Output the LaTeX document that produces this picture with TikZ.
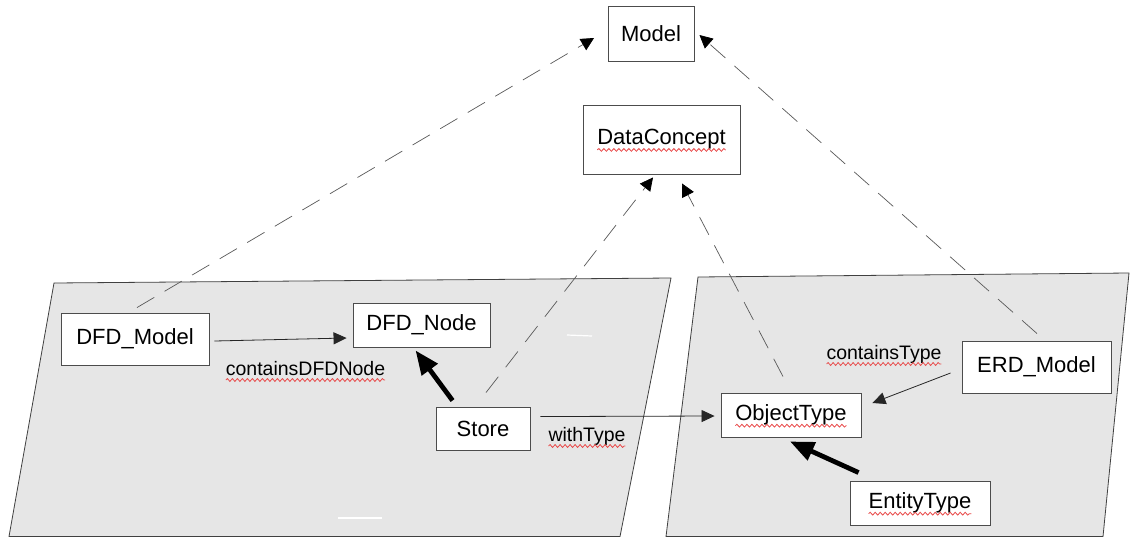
\documentclass[tikz,border=0pt]{standalone}
\usepackage{fontspec}
\setmainfont{Liberation Sans}
\usetikzlibrary{arrows.meta,calc,decorations.pathmorphing}
\definecolor{spellred}{RGB}{232,72,72}
\definecolor{panelgray}{RGB}{230,230,230}
% widths of the words carrying a red spell-check wave
\newlength\wdc \newlength\wobj \newlength\went
\newlength\wcontains \newlength\wwith \newlength\wctype
\newcommand\boxfont{\fontsize{22}{26}\selectfont}
\newcommand\lblfont{\fontsize{19.5}{23}\selectfont}
\newcommand\spellunder[2]{%
  \draw[spell] ($(#1.base)+(-.5#2,5)$) -- ($(#1.base)+(.5#2,5)$);}
\begin{document}
\settowidth\wdc{\boxfont DataConcept}%
\settowidth\wobj{\boxfont ObjectType}%
\settowidth\went{\boxfont EntityType}%
\settowidth\wcontains{\lblfont containsDFDNode}%
\settowidth\wwith{\lblfont withType}%
\settowidth\wctype{\lblfont containsType}%
\begin{tikzpicture}[x=1pt,y=-1pt,
  box/.style={draw=black!70, line width=0.9pt, fill=white, inner sep=0pt, font=\boxfont},
  lbl/.style={inner sep=0pt, anchor=base, font=\lblfont},
  assoc/.style={draw=black!85, line width=0.8pt, -{Triangle[length=13pt,width=12pt]}},
  inherit/.style={draw=black, line width=4.8pt, -{Triangle[length=24pt,width=19pt]}},
  depend/.style={draw=black!65, line width=0.7pt, dash pattern=on 20pt off 12pt,
                 -{Triangle[length=13pt,width=13pt,black]}},
  panel/.style={fill=panelgray, draw=black!75, line width=0.8pt},
  spell/.style={draw=spellred, line width=0.8pt,
                decorate, decoration={snake, amplitude=1.4pt, segment length=5pt}}]
\useasboundingbox (0,0) rectangle (1132,538);
\fill[white] (0,0) rectangle (1132,538);

% the two slanted planes
\draw[panel] (54,283) -- (671,278) -- (620,536.5) -- (9,536.5) -- cycle;
\draw[panel] (698,277) -- (1129,273) -- (1103,536.5) -- (666,536.5) -- cycle;
\draw[white, line width=1.2pt] (567,335) -- (592,336);
\draw[white, line width=1.2pt] (338,518) -- (382,518);

% classes
\node[box, minimum width=86pt, minimum height=55pt] (model) at (651,33.5) {Model};
\node[box, minimum width=157pt, minimum height=69pt] (dc) at (661.5,139.5) {DataConcept};
\node[box, minimum width=148pt, minimum height=52pt] (dfdmodel) at (135,339) {DFD\_Model};
\node[box, minimum width=137pt, minimum height=44pt] (dfdnode) at (421.5,325) {DFD\_Node};
\node[box, minimum width=94pt, minimum height=43pt] (store) at (483,428.5) {Store};
\node[box, minimum width=140pt, minimum height=44pt] (objtype) at (791,415) {ObjectType};
\node[box, minimum width=149pt, minimum height=52pt] (erdmodel) at (1036.5,367) {ERD\_Model};
\node[box, minimum width=140pt, minimum height=44pt] (enttype) at (920,503) {EntityType};

% association names
\node[lbl] (lcontains) at (305.5,375) {containsDFDNode};
\node[lbl] (lwith) at (587,441) {withType};
\node[lbl] (lctype) at (884,359) {containsType};

% spelling marks
\spellunder{dc}{\wdc}
\spellunder{objtype}{\wobj}
\spellunder{enttype}{\went}
\spellunder{lcontains}{\wcontains}
\spellunder{lwith}{\wwith}
\spellunder{lctype}{\wctype}

% associations
\draw[assoc] ($(dfdmodel.east)+(5,2)$) -- ($(dfdnode.west)+(-6,13)$);
\draw[assoc] ($(store.north east)+(10,10)$) -- ($(objtype.west)+(-6,1)$);
\draw[assoc] ($(erdmodel.west)+(-11,6)$) -- ($(objtype.east)+(11,-12)$);

% generalisations
\draw[inherit] ($(store.north west)+(17,-6)$) -- ($(dfdnode.south west)+(63,3)$);
\draw[inherit] ($(enttype.north west)+(9,-8)$) -- ($(objtype.south)+(-1,4)$);

% dependencies on the shared concepts
\draw[depend] ($(dfdmodel.north)+(2,-5)$) -- ($(model.west)+(-13.5,4.5)$);
\draw[depend] ($(erdmodel.north)+(0.5,-7)$) -- ($(model.east)+(5,1.5)$);
\draw[depend] ($(store.north)+(3,-14)$) -- ($(dc.south)+(-8.5,3)$);
\draw[depend] ($(objtype.north)+(-8,-16)$) -- ($(dc.south)+(20.5,9)$);
\end{tikzpicture}
\end{document}
